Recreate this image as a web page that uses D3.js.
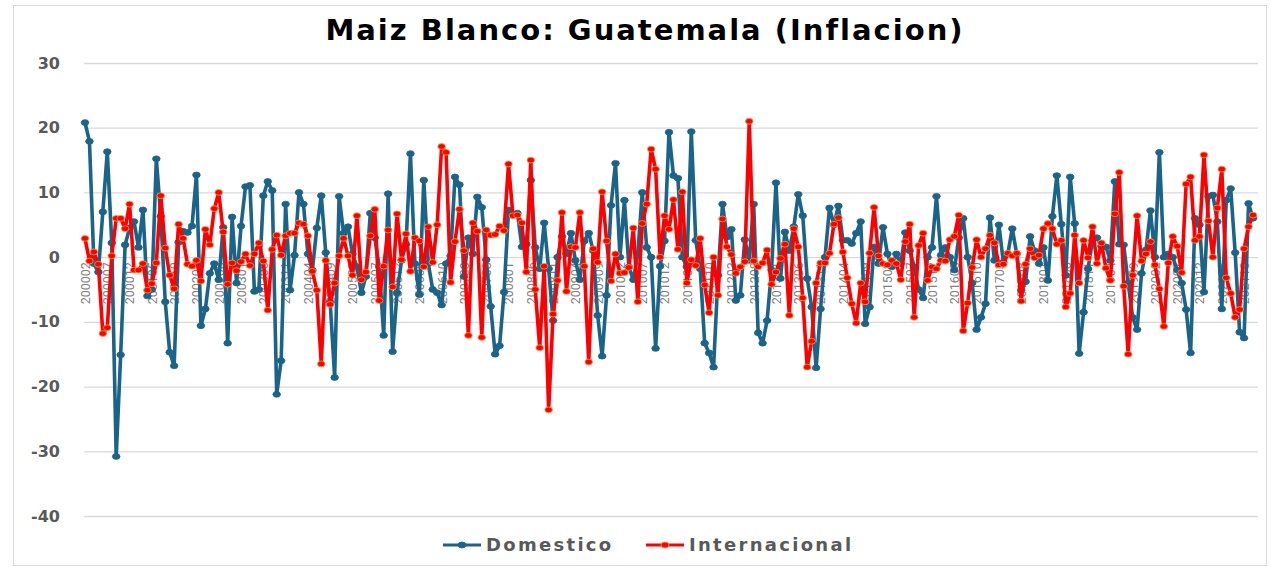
<!DOCTYPE html>
<html>
<head>
<meta charset="utf-8">
<script src="https://cdn.jsdelivr.net/npm/d3@7"></script>
<style>
  body { margin: 0; background: #fff; }
  svg { display: block; }
</style>
</head>
<body>
<div id="chart"></div>
<script>
'use strict';

// variacion mensual (%), de 200002 a 202112
const domestico = [
  20.8, 17.9, -1.0, -2.3, 7.0, 16.3, 2.2, -30.8, -15.1, 1.9,
  4.5, 5.5, 1.5, 7.3, -6.0, -5.0, 15.2, 6.3, -6.9, -14.7,
  -16.8, 2.3, 4.0, 3.8, 4.8, 12.7, -10.6, -8.0, -2.5, -1.0,
  -3.5, 4.6, -13.3, 6.2, -4.0, 4.8, 10.9, 11.1, -5.3, -5.0,
  9.5, 11.7, 10.3, -21.2, -16.0, 8.2, -5.1, 0.3, 10.0, 8.2,
  0.5, -2.0, 4.5, 9.5, 0.7, -7.0, -18.6, 9.4, 3.7, 4.7,
  0.5, -1.5, -5.5, -3.0, 6.8, 3.0, -1.5, -12.1, 9.8, -14.6,
  -5.5, -0.5, 2.0, 16.0, -1.0, -5.8, 11.9, -1.0, -5.0, -5.5,
  -7.4, -1.0, 0.2, 12.4, 11.2, -3.0, 3.0, 0.5, 9.3, 7.7,
  -0.4, -7.6, -15.0, -13.7, -5.4, 7.3, 6.5, 6.8, 1.6, 2.0,
  11.9, 1.5, -1.8, 5.3, -1.8, -9.8, 0.0, 3.2, 0.5, 3.7,
  -0.5, -3.5, 2.5, 3.7, 1.0, -9.0, -15.3, -5.9, 8.0, 14.5,
  0.0, 8.8, -1.5, -3.5, 0.5, 10.0, 1.5, 0.0, -14.1, -1.4,
  2.5, 19.3, 12.6, 12.2, 0.0, -1.5, 19.4, 2.6, -1.8, -13.3,
  -14.8, -17.0, -2.8, 8.2, 3.1, 4.3, -6.7, -5.9, 2.7, -0.5,
  8.2, -11.7, -13.3, -9.8, -2.0, 11.5, -3.3, 3.9, 1.0, 4.7,
  9.7, 6.4, -3.3, -7.7, -17.1, -8.0, 0.0, 7.6, 5.0, 7.9,
  2.6, 2.6, 2.1, 3.7, 5.5, -10.3, -7.7, 1.6, -1.0, 4.6,
  0.5, -1.5, 0.5, -1.0, 3.8, 1.0, -1.5, -5.0, -6.3, 0.0,
  1.5, 9.4, 0.3, 1.5, 0.0, -2.0, 3.0, 6.0, 0.0, -4.0,
  -11.2, -9.3, -7.2, 6.1, -0.5, 5.0, -0.8, 0.5, 4.4, 0.5,
  -5.1, -3.8, 3.2, 1.0, -1.0, 1.5, -3.6, 6.3, 12.6, 5.1,
  -2.8, 12.4, 5.2, -14.9, -8.5, -1.8, 2.6, 3.0, 1.7, 1.6,
  -0.5, 11.7, 2.0, 1.9, -4.0, -9.3, -11.2, -2.5, 1.1, 7.2,
  0.0, 16.2, 0.0, 0.5, 0.0, -2.0, -4.0, -8.1, -14.8, 6.0,
  5.0, -5.4, 9.4, 9.6, 5.5, -8.0, 8.8, 10.6, 0.7, -11.6,
  -12.5, 8.3, 6.0
]

const internacional = [
  2.9, -0.6, 0.8, -1.1, -11.8, -10.9, 0.2, 6.0, 6.0, 4.4,
  8.2, -2.0, -2.0, -1.0, -5.1, -4.1, -0.9, 9.5, 1.4, -2.8,
  -4.9, 5.1, 2.9, -1.1, -1.4, -0.5, -3.7, 4.3, 1.9, 7.5,
  10.0, 3.9, -4.2, -0.9, -2.1, -0.7, 0.5, -1.3, 0.5, 2.2,
  -0.6, -8.2, 1.2, 3.4, 0.3, 3.3, 3.7, 3.7, 5.3, 5.1,
  3.3, -2.2, -5.1, -16.5, -0.5, -7.3, -4.0, 0.2, 2.9, 0.2,
  -2.8, 6.4, -3.5, -2.3, 3.3, 7.4, -6.7, -1.4, 4.2, -4.6,
  6.7, -0.4, 3.6, -2.2, 3.0, 2.5, -1.5, 4.7, -0.8, 5.0,
  17.1, 16.2, -3.9, 2.4, 7.4, 1.0, -12.1, 5.3, 4.0, -12.4,
  4.2, 3.4, 3.5, 4.8, 4.1, 14.4, 6.4, 6.5, 5.3, -2.3,
  15.0, -5.0, -14.0, -1.4, -23.6, -8.8, -3.6, 6.9, -5.3, 1.6,
  1.5, 6.9, -1.4, -16.2, 1.3, -0.8, 10.1, 2.5, -3.7, 0.5,
  -2.5, -2.4, -1.6, 4.5, -6.9, 5.2, 8.2, 16.7, 13.6, 0.0,
  6.4, 4.3, 8.9, 1.2, 10.1, -4.0, -0.4, -1.3, 2.9, -4.3,
  -8.6, 0.0, -5.9, 5.9, 1.6, 0.4, -2.5, -1.5, -0.7, 21.0,
  -0.6, -1.5, -0.9, 1.1, -4.2, -2.3, -0.2, 2.0, -9.0, 4.4,
  1.6, -6.3, -17.0, -13.0, -4.0, -0.9, -0.9, 0.6, 5.1, 6.1,
  0.8, -3.2, -7.2, -10.2, -4.0, -6.9, 0.6, 7.7, 0.2, -1.0,
  -1.2, -0.5, -1.0, -3.5, 2.4, 5.1, -9.3, 1.8, 3.7, -3.6,
  -1.5, -1.8, -0.5, -0.6, 2.7, 3.2, 6.5, -11.4, -7.1, -1.6,
  2.7, 0.0, 1.3, 3.4, 2.2, -1.2, -1.1, 0.6, 0.2, 0.6,
  -6.8, -1.1, 1.3, -0.1, 0.3, 4.4, 5.2, 4.4, 2.0, 2.6,
  -7.7, -5.6, 3.4, -4.0, 2.6, -0.1, 4.7, -1.0, 2.2, -1.7,
  -3.6, 6.7, 13.1, -4.5, -15.0, -2.8, 6.4, -0.6, 0.5, 2.4,
  -1.2, -4.9, -10.7, -0.9, 3.2, 1.7, -2.4, 11.3, 12.4, 2.6,
  3.2, 15.8, 5.6, 0.0, 7.6, 13.6, -3.2, -5.6, -9.3, -8.1,
  1.3, 4.7, 6.5
]

const yTicks = [30, 20, 10, 0, -10, -20, -30, -40]

// periodos AAAAMM
const periodos = []
for (let a = 2000; a <= 2021; a++) {
  for (let m = 1; m <= 12; m++) {
    if (a === 2000 && m === 1) continue
    periodos.push(`${a}${String(m).padStart(2, '0')}`)
  }
}

const series = [
  { name: 'Domestico', values: domestico, color: '#1a6389', marker: '#1a6389' },
  { name: 'Internacional', values: internacional, color: '#ff0000', marker: '#f7a13c' }
]

const W = 1271, H = 567

const svg = d3.select('#chart')
  .append('svg')
  .attr('width', W)
  .attr('height', H)

svg.append('rect')
  .attr('x', 13.5).attr('y', 5.5)
  .attr('width', 1253).attr('height', 560)
  .attr('fill', '#fff')
  .attr('stroke', '#d9d9d9')

svg.append('text')
  .attr('x', 645).attr('y', 40)
  .attr('text-anchor', 'middle')
  .style('font-family', 'DejaVu Sans, sans-serif')
  .style('font-weight', 'bold')
  .style('font-size', '29px')
  .style('letter-spacing', '2px')
  .attr('fill', '#000')
  .text('Maiz Blanco: Guatemala (Inflacion)')

let xScale = d3.scalePoint()
  .domain(periodos)
  .range([85, 1253])

let yScale = d3.scaleLinear()
  .domain([-40, 30])
  .range([516, 63])

// grilla + etiquetas del eje y
let yAxis = svg.append('g')
  .attr('transform', 'translate(84, 0)')
  .call(d3.axisLeft(yScale)
    .tickValues(yTicks)
    .tickSize(-1174)
    .tickPadding(24)
    .tickFormat(d => d))
yAxis.select('.domain').remove()
yAxis.selectAll('line').attr('stroke', '#d9d9d9').attr('stroke-width', 1.3)
yAxis.selectAll('text')
  .attr('fill', '#595959')
  .style('font-family', 'DejaVu Sans, sans-serif')
  .style('font-weight', 'bold')
  .style('font-size', '16px')

// etiquetas de categoria sobre la linea de cero
let xAxis = svg.append('g')
  .attr('transform', `translate(0, ${yScale(0)})`)
  .call(d3.axisBottom(xScale)
    .tickValues(periodos.filter((d, i) => i % 5 === 0))
    .tickSize(0))
xAxis.select('.domain').remove()
xAxis.selectAll('text')
  .attr('transform', 'rotate(-90)')
  .attr('x', -5)
  .attr('y', 0)
  .attr('dy', '0.35em')
  .style('text-anchor', 'end')
  .attr('fill', '#808080')
  .style('font-family', 'Liberation Sans Narrow, Roboto, sans-serif')
  .style('font-size', '12.5px')

const line = d3.line()
  .x((d, i) => xScale(periodos[i]))
  .y(d => yScale(d))

series.forEach(s => {
  let g = svg.append('g')
  g.append('path')
    .datum(s.values)
    .attr('fill', 'none')
    .attr('stroke', s.color)
    .attr('stroke-width', 3.6)
    .attr('stroke-linejoin', 'round')
    .attr('d', line)
  g.selectAll('ellipse')
    .data(s.values)
    .join('ellipse')
    .attr('cx', (d, i) => xScale(periodos[i]))
    .attr('cy', d => yScale(d))
    .attr('rx', 3.8)
    .attr('ry', 2.9)
    .attr('fill', s.color)
    .attr('stroke', s.marker)
    .attr('stroke-width', 0.8)
})

// leyenda
const legendX = [443, 646]
series.forEach((s, i) => {
  let g = svg.append('g').attr('transform', `translate(${legendX[i]}, 545)`)
  g.append('line')
    .attr('x1', 0).attr('x2', 38)
    .attr('stroke', s.color)
    .attr('stroke-width', 3)
  g.append('ellipse')
    .attr('cx', 19).attr('rx', 4).attr('ry', 3)
    .attr('fill', s.color)
    .attr('stroke', s.marker)
    .attr('stroke-width', 0.8)
  g.append('text')
    .attr('x', 43).attr('dy', '0.36em')
    .attr('fill', '#595959')
    .style('font-family', 'DejaVu Sans, sans-serif')
    .style('font-weight', 'bold')
    .style('font-size', '18px')
    .style('letter-spacing', '2.3px')
    .text(s.name)
})
</script>
</body>
</html>
